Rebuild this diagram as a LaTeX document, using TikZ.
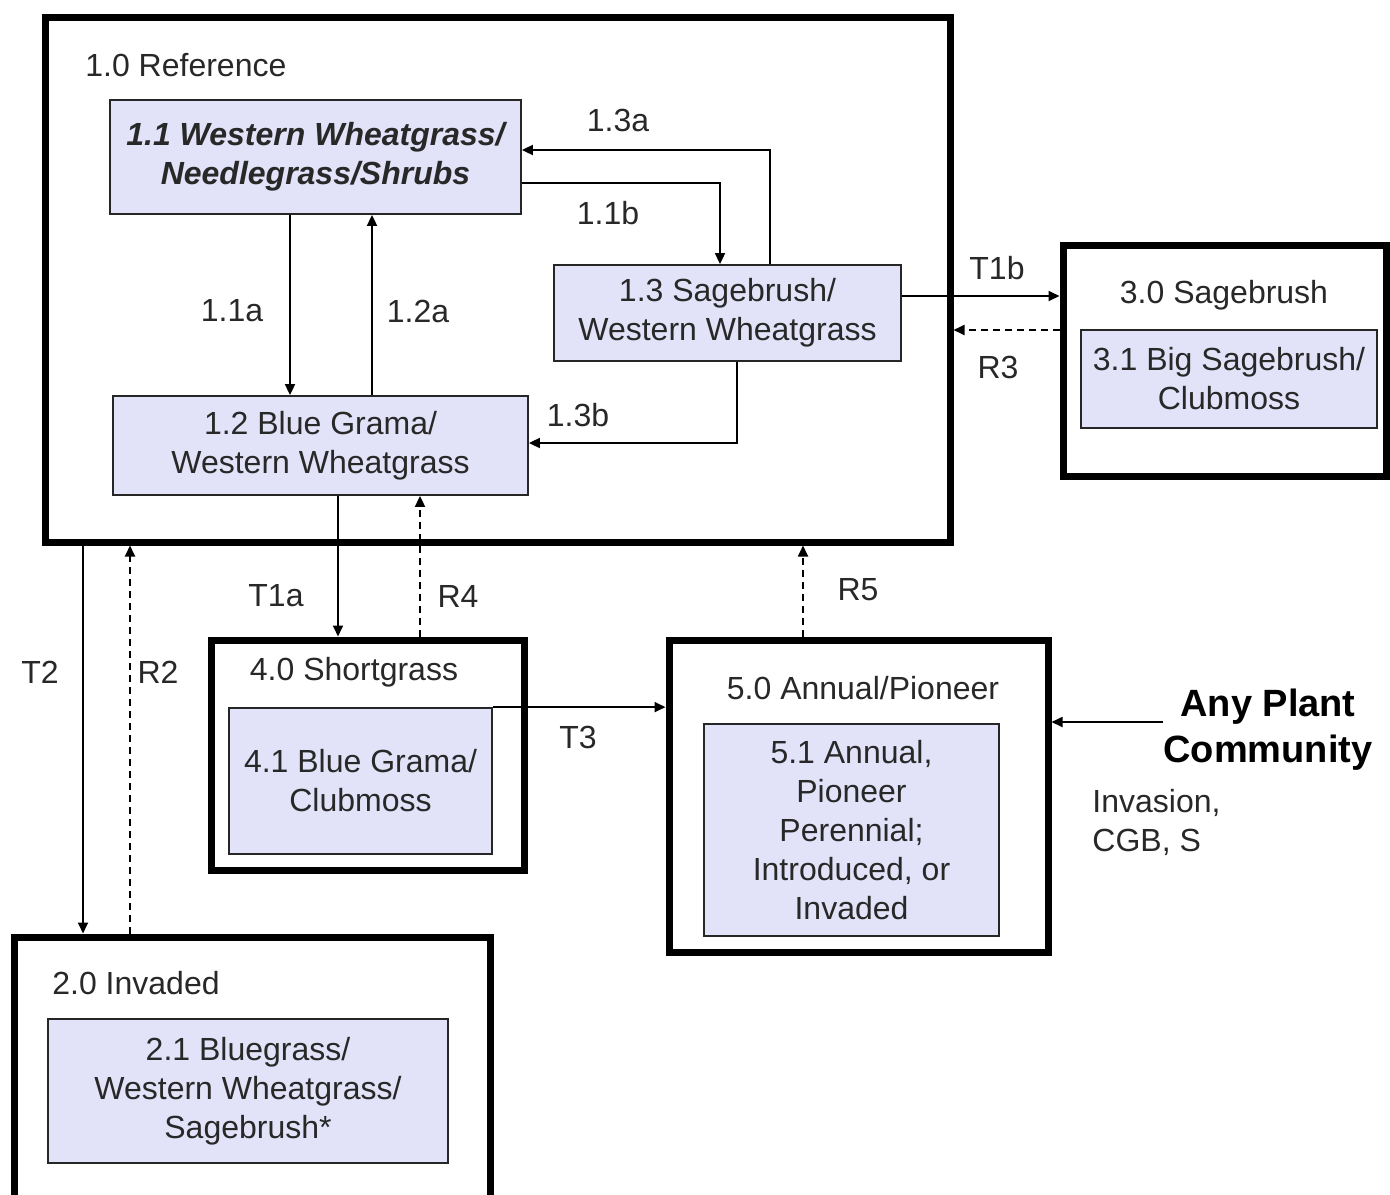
\documentclass[tikz,border=0pt]{standalone}
\usepackage{fontspec}
\setmainfont{Liberation Sans}
\usetikzlibrary{arrows.meta}
\definecolor{boxfill}{RGB}{226,226,248}
\definecolor{txt}{RGB}{40,40,40}
\begin{document}
\begin{tikzpicture}[x=0.5pt,y=-0.5pt,
  every node/.style={text=txt,font=\fontsize{16}{19.5}\selectfont,inner sep=0pt},
  statebox/.style={draw=black,line width=3.5pt,fill=white},
  phase/.style={draw=black!85,line width=0.9pt,fill=boxfill,align=center},
  lbl/.style={font=\fontsize{16}{19.5}\selectfont},
  arr/.style={line width=0.9pt,-{Triangle[length=5.5pt,width=5pt]}},
  darr/.style={arr,dash pattern=on 3.5pt off 2.5pt}]
\useasboundingbox (0,0) rectangle (1390,1194);
\clip (0,0) rectangle (1390,1194);
\fill[white] (0,0) rectangle (1390,1194);

% state boxes
\node[statebox,minimum width=452.5pt,minimum height=262.5pt] (b1) at (497.5,279.5) {};
\node[statebox,minimum width=238pt,minimum height=141.5pt] (b2) at (252,1078.5) {};
\node[statebox,minimum width=161.5pt,minimum height=115.5pt] (b3) at (1224.5,360.5) {};
\node[statebox,minimum width=156.5pt,minimum height=115pt] (b4) at (367.5,755) {};
\node[statebox,minimum width=189.5pt,minimum height=156pt] (b5) at (858.5,796) {};

% state titles
\node[anchor=west] (t1) at (85,65) {1.0 Reference};
\node (t3) at (1224,295) {3.0 Sagebrush};
\node (t4) at (354,672) {4.0 Shortgrass};
\node (t5) at (863,688) {5.0 Annual/Pioneer};
\node[anchor=west] (t2) at (52,983) {2.0 Invaded};

% community phases
\node[phase,minimum width=205.5pt,minimum height=57pt] (n11) at (315.5,157)
  {\bfseries\itshape 1.1 Western Wheatgrass/\\\bfseries\itshape Needlegrass/Shrubs};
\node[phase,minimum width=173.5pt,minimum height=48pt] (n13) at (727.5,313)
  {1.3 Sagebrush/\\Western Wheatgrass};
\node[phase,minimum width=207.5pt,minimum height=49.5pt] (n12) at (320.5,445.5)
  {1.2 Blue Grama/\\Western Wheatgrass};
\node[phase,minimum width=148pt,minimum height=49pt] (n31) at (1229,379)
  {3.1 Big Sagebrush/\\Clubmoss};
\node[phase,minimum width=131.5pt,minimum height=73pt] (n41) at (360.5,781)
  {4.1 Blue Grama/\\Clubmoss};
\node[phase,minimum width=147.5pt,minimum height=106pt] (n51) at (851.5,830)
  {5.1 Annual,\\Pioneer\\Perennial;\\Introduced, or\\Invaded};
\node[phase,minimum width=200pt,minimum height=72pt] (n21) at (248,1091)
  {2.1 Bluegrass/\\Western Wheatgrass/\\Sagebrush*};

% any plant community
\node[align=center,font=\fontsize{19}{23}\selectfont\bfseries,text=black] (apc) at (1268,730)
  {Any Plant\\Community};
\node[anchor=west,align=left] (inv) at (1092,822.5) {Invasion,\\CGB, S};

% helper coordinates
\coordinate (c13a) at (770,150);
\coordinate (c11b) at (720,183);
\coordinate (c13b) at (737,443);
\coordinate (x11a) at (290,300);
\coordinate (x12a) at (372,300);
\coordinate (xT1a) at (338,560);
\coordinate (xR4) at (420,560);
\coordinate (xR5) at (803,560);
\coordinate (yT1b) at (980,296);
\coordinate (yR3) at (980,330);
\coordinate (xT2) at (83,700);
\coordinate (xR2) at (130,700);

% connectors inside reference state
\draw[arr] (c13a |- n13.north) -- (c13a) -- (c13a -| n11.east);
\draw[arr] (c11b -| n11.east) -- (c11b) -- (c11b |- n13.north);
\draw[arr] (x11a |- n11.south) -- (x11a |- n12.north);
\draw[arr] (x12a |- n12.north) -- (x12a |- n11.south);
\draw[arr] (c13b |- n13.south) -- (c13b) -- (c13b -| n12.east);

% transitions and restorations
\draw[arr] (yT1b -| n13.east) -- (yT1b -| b3.west);
\draw[darr] (yR3 -| b3.west) -- (yR3 -| b1.east);
\draw[arr] (xT1a |- n12.south) -- (xT1a |- b4.north);
\draw[darr] (xR4 |- b4.north) -- (xR4 |- n12.south);
\draw[darr] (xR5 |- b5.north) -- (xR5 |- b1.south);
\draw[arr] (n41.north east) -- (n41.north east -| b5.west);
\draw[arr] (xT2 |- b1.south) -- (xT2 |- b2.north);
\draw[darr] (xR2 |- b2.north) -- (xR2 |- b1.south);
\draw[arr] ([yshift=4pt]apc.west) -- ([yshift=4pt]apc.west -| b5.east);

% connector labels
\node[lbl] (l13a) at (618,120) {1.3a};
\node[lbl] (l11b) at (608,213) {1.1b};
\node[lbl] (l11a) at (232,311) {1.1a};
\node[lbl] (l12a) at (418,311) {1.2a};
\node[lbl] (l13b) at (578,415) {1.3b};
\node[lbl] (lT1b) at (997,268) {T1b};
\node[lbl] (lR3) at (998,367) {R3};
\node[lbl] (lT1a) at (276,596) {T1a};
\node[lbl] (lR4) at (458,596) {R4};
\node[lbl] (lR5) at (858,590) {R5};
\node[lbl] (lT3) at (578,737) {T3};
\node[lbl] (lT2) at (40,672) {T2};
\node[lbl] (lR2) at (158,672) {R2};
\end{tikzpicture}
\end{document}
